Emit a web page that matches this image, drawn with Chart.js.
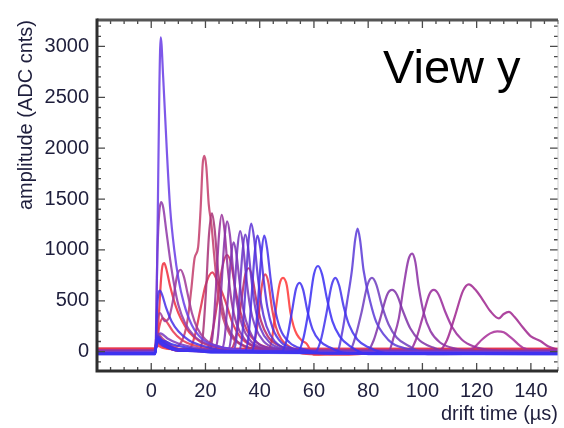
<!DOCTYPE html>
<html>
<head>
<meta charset="utf-8">
<script src="https://cdn.jsdelivr.net/npm/chart.js@4.4.1/dist/chart.umd.min.js"></script>
<style>
  body { margin: 0; background: #fff; }
</style>
</head>
<body>
<canvas id="pulses" width="564" height="428"></canvas>
<script>
// axis ticks
const xTicks = [0, 20, 40, 60, 80, 100, 120, 140];
const yTicks = [0, 500, 1000, 1500, 2000, 2500, 3000];

// pulse traces, [drift time (us), amplitude (ADC cnts)]
const red48 = [[-20,25],[0,20],[1.4,22],[2.2,60],[4,40],[8,25],[43,20],[44.5,120],[45.8,390],[47.3,660],[48.6,725],[50,650],[51.3,390],[52.5,250],[53.7,170],[55.5,110],[57.4,76],[60,-30],[64,-25],[80,20],[110,25],[150,20]];
const red42 = [[-20,30],[1.4,30],[2.2,120],[4,80],[8,30],[36,25],[38,90],[39.5,330],[40.8,650],[42,760],[43.2,680],[44.5,430],[46,240],[48,120],[51,50],[56,-20],[70,-30],[100,20],[150,25]];
const red22 = [[-20,20],[1.4,20],[2.2,90],[4.5,60],[9,25],[14,25],[16,150],[18,400],[20,650],[22.5,780],[25,650],[27.3,500],[30,280],[33,140],[38,50],[45,20],[60,-15],[150,25]];
const redPurple28 = [[-20,15],[1.4,15],[2.1,150],[4,100],[9,30],[20,15],[22,120],[24,420],[26,800],[27.9,950],[29.5,860],[31,620],[33,380],[35.5,200],[39,90],[45,30],[55,15],[150,15]];
const redPurple36 = [[-20,25],[1.4,25],[2.2,130],[4.5,80],[10,25],[29,20],[31,120],[33,450],[34.7,760],[35.9,820],[37.2,740],[38.8,500],[40.5,300],[43,150],[47,60],[55,20],[150,20]];
const red4 = [[-20,20],[1.6,20],[2.4,200],[3.9,800],[4.8,870],[5.5,820],[7,640],[9,450],[11,320],[14,190],[18,100],[24,45],[32,20],[150,20]];
const red4s = [[-20,30],[1.6,30],[3,250],[4.2,330],[5.5,300],[8,200],[11,120],[16,60],[24,30],[150,30]];
const pink19 = [[-20,15],[1.4,15],[2.2,180],[4.5,120],[9,50],[12,150],[13.5,330],[14.8,620],[16,920],[17.3,1030],[18.2,1400],[19,1850],[19.6,1925],[20.3,1820],[21.2,1450],[22.2,1250],[23.2,950],[24.5,600],[26.5,330],[29,170],[33,70],[40,20],[150,15]];
const tall22 = [[-20,10],[1.4,10],[2.2,100],[4.5,60],[10,10],[17.5,10],[19,150],[20.2,600],[21.3,1150],[22.4,1360],[23.4,1200],[24.6,800],[26,480],[28,260],[31,120],[36,40],[45,10],[150,10]];
const purple11 = [[-20,5],[1.4,5],[2.2,300],[3.2,380],[5,300],[6.5,330],[8,500],[9.5,740],[10.8,805],[12,740],[13.5,560],[15,380],[17,230],[20,120],[25,50],[32,15],[50,5],[150,5]];
const purple4 = [[-20,5],[1.5,5],[2.3,1000],[3.6,1470],[4.4,1420],[5.5,1200],[7,900],[8.5,650],[10,460],[12.5,280],[16,150],[20,80],[28,30],[40,10],[150,5]];
const mag117 = [[-20,10],[1.4,10],[2.2,120],[4.5,70],[10,15],[106,10],[109,110],[112,350],[115,600],[117.1,661],[119.5,610],[122,520],[125,400],[128.2,327],[130,370],[131.9,391],[134,340],[137,240],[140,150],[143.5,105],[146.5,50],[150,20]];
const mag128 = [[-20,15],[1.4,15],[2.2,80],[4.5,50],[10,15],[116,15],[119,40],[122,120],[125,180],[127.6,200],[130,190],[133,130],[137,40],[141,15],[150,15]];
const purple104 = [[-20,0],[1.4,0],[2.2,90],[4.5,55],[10,10],[95,0],[97.5,110],[100,330],[102.5,560],[104.2,607],[106,560],[108.3,400],[111,240],[114.5,120],[119,50],[126,15],[150,0]];
const purple96 = [[-20,5],[1.4,5],[2.2,150],[4.5,90],[10,20],[87.5,5],[89.5,150],[91.3,327],[93.1,645],[94.8,900],[96.2,963],[97.4,880],[98.6,645],[100.5,380],[103,200],[106.5,90],[112,30],[120,5],[150,5]];
const purple89 = [[-20,0],[1.4,0],[2.2,100],[4.5,60],[10,10],[79.5,0],[82,110],[84.5,330],[87,560],[88.8,607],[90.6,560],[92.8,400],[95.5,230],[99,110],[104,40],[112,-20],[150,0]];
const tall26 = [[-20,5],[1.4,5],[2.2,150],[4.5,90],[10,20],[21,10],[22.6,150],[23.8,600],[25,1150],[26,1345],[27,1200],[28.2,820],[29.6,500],[31.5,270],[34.5,120],[39,40],[48,5],[150,5]];
const tall28 = [[-20,0],[1.4,0],[2.2,120],[4.5,70],[10,15],[23,5],[24.6,150],[25.8,600],[27,1100],[28,1280],[29,1150],[30.2,800],[31.6,480],[33.5,260],[36.5,110],[41,35],[50,0],[150,0]];
const tall30 = [[-20,-5],[1.4,-5],[2.2,140],[4.5,80],[10,20],[25.5,5],[27,120],[28.2,500],[29.4,920],[30.4,1075],[31.4,960],[32.6,680],[34,410],[36,220],[39,90],[44,30],[52,-5],[150,-5]];
const purpleBlue81 = [[-20,-5],[1.4,-5],[2.2,120],[4.5,70],[10,15],[73,0],[75,120],[77.5,380],[79.8,660],[81.4,725],[83,660],[85,460],[87.5,270],[90.5,140],[95,55],[102,-25],[150,-5]];
const tall33 = [[-20,-10],[1.4,-10],[2.2,110],[4.5,60],[10,15],[28,0],[29.4,130],[30.6,560],[31.8,1020],[32.8,1185],[33.8,1060],[35,740],[36.4,450],[38.4,240],[41.5,100],[46,30],[55,-10],[150,-10]];
const tall35 = [[-20,-10],[1.4,-10],[2.2,160],[4.5,100],[10,25],[30,0],[31.4,130],[32.5,540],[33.7,990],[34.7,1150],[35.7,1030],[36.9,720],[38.3,440],[40.3,230],[43.5,95],[48,30],[57,-10],[150,-10]];
const violet76 = [[-20,-10],[1.4,-10],[2.2,140],[4.5,90],[10,20],[68.5,0],[70.5,200],[72.2,486],[74,800],[75.2,1100],[76.1,1210],[77,1100],[78.3,800],[80.8,486],[83,290],[85.7,170],[89,80],[95,25],[105,-10],[150,-10]];
const purple3s = [[-20,0],[1.4,0],[2.2,160],[3.4,180],[6,130],[10,80],[16,40],[25,10],[150,0]];
const tall37 = [[-20,-15],[1.4,-15],[2.2,130],[4.5,80],[10,20],[32,0],[33.5,140],[34.7,600],[35.9,1090],[36.9,1260],[37.9,1120],[39.1,790],[40.5,480],[42.5,250],[45.6,100],[50,30],[60,-15],[150,-15]];
const violet3 = [[-20,-5],[-10,-10],[0,-5],[1.6,-5],[2.2,900],[3.0,2600],[3.5,3090],[4.4,2700],[5.8,1950],[7,1400],[8.5,1000],[10,720],[12,480],[15,260],[19,120],[25,50],[35,15],[60,-10],[100,-5],[150,-10]];
const tall39 = [[-20,-15],[1.4,-15],[2.2,150],[4.5,90],[10,20],[34.3,0],[35.8,130],[37,540],[38.2,980],[39.2,1140],[40.2,1020],[41.4,720],[42.8,440],[44.8,230],[48,90],[53,25],[62,-15],[150,-15]];
const tall42 = [[-20,-20],[1.4,-20],[2.2,120],[4.5,70],[10,15],[36.8,0],[38.3,130],[39.5,540],[40.7,980],[41.7,1140],[42.7,1020],[44,720],[45.5,440],[47.5,230],[51,90],[56,25],[65,-20],[150,-20]];
const blue3 = [[-20,-20],[1.5,-20],[2.2,450],[3.2,600],[4,560],[5.5,430],[7.5,300],[10,200],[14,110],[20,50],[30,0],[150,-20]];
const blue55 = [[-20,-15],[1.4,-15],[2.2,100],[4.5,60],[10,10],[48,0],[50,120],[51.8,380],[53.4,620],[54.7,677],[56,610],[57.6,400],[59.5,220],[62,110],[66,40],[72,-15],[150,-15]];
const blue62 = [[-20,-25],[1.4,-25],[2.2,130],[4.5,80],[10,15],[54,0],[56,120],[58,400],[60,760],[61.5,842],[63,760],[64.8,520],[66.8,300],[69.5,150],[73,60],[80,-25],[150,-25]];
const blue68 = [[-20,-20],[1.4,-20],[2.2,110],[4.5,70],[10,15],[60.5,0],[62.5,110],[64.5,360],[66.5,650],[67.9,725],[69.3,650],[71,440],[73,260],[76,120],[80,45],[88,-20],[150,-20]];
const blue3s = [[-20,-25],[1.4,-25],[2.2,100],[4,110],[8,70],[14,35],[22,-10],[150,-25]];

// drawn from first (back) to last (front)
const traces = [red48, red42, red22, redPurple28, redPurple36, red4, red4s, pink19, tall22,
  purple11, purple4, mag117, mag128, purple104, purple96, purple89, tall26, tall28, tall30,
  purpleBlue81, tall33, tall35, violet76, purple3s, tall37, violet3, tall39, tall42, blue3,
  blue55, blue62, blue68, blue3s];

const traceColors = ['#ff3a3a', '#e8344a', '#e0304c', '#c82c60', '#b82868', '#f03040', '#e83a50',
  '#c4406e', '#a83478', '#a03c98', '#903aa8', '#a02890', '#a8309a', '#9a2c9c', '#8c30a4',
  '#8034a8', '#98309a', '#8a32a8', '#8034b4', '#7040c0', '#7636be', '#6a36c8', '#5c3cd8',
  '#7a3ac0', '#5c34d6', '#6a3ee6', '#5030e0', '#4630ea', '#4a32e6', '#4030f0', '#3c30f4',
  '#4434ee', '#3c34f0'];

// Chart.js paints dataset 0 on top, so hand them over reversed
const datasets = traces.map((pts, i) => ({
  data: pts,
  borderColor: traceColors[i] + 'dd',
  borderWidth: 2.2,
  pointRadius: 0,
  fill: false,
  cubicInterpolationMode: 'monotone'
})).reverse();

// IDL-style frame with inward ticks, plus the "View y" tag
const framePlugin = {
  id: 'frame',
  afterDraw(chart) {
    const {ctx, chartArea: a, scales: {x, y}} = chart;
    ctx.save();
    ctx.strokeStyle = '#4a4a4a';
    ctx.lineWidth = 1.3;
    ctx.beginPath();
    for (let v = -20; v <= 150; v += 5) {
      const px = x.getPixelForValue(v);
      const len = v % 20 === 0 ? 8 : 4;
      ctx.moveTo(px, a.bottom);
      ctx.lineTo(px, a.bottom - len);
      ctx.moveTo(px, a.top);
      ctx.lineTo(px, a.top + len);
    }
    for (let v = -100; v <= 3200; v += 100) {
      const py = y.getPixelForValue(v);
      const len = v % 500 === 0 ? 8 : 4;
      ctx.moveTo(a.left, py);
      ctx.lineTo(a.left + len, py);
      ctx.moveTo(a.right, py);
      ctx.lineTo(a.right - len, py);
    }
    ctx.stroke();

    ctx.lineWidth = 1;
    ctx.strokeStyle = '#cfcfcf';
    ctx.beginPath();
    ctx.moveTo(a.right, a.top);
    ctx.lineTo(a.right, a.bottom);
    ctx.stroke();

    ctx.lineWidth = 3;
    ctx.strokeStyle = '#555';
    ctx.beginPath();
    ctx.moveTo(a.left, a.top);
    ctx.lineTo(a.right, a.top);
    ctx.stroke();

    ctx.strokeStyle = '#2e2e2e';
    ctx.beginPath();
    ctx.moveTo(a.left, a.top - 1.5);
    ctx.lineTo(a.left, a.bottom);
    ctx.lineTo(a.right, a.bottom);
    ctx.stroke();

    ctx.fillStyle = '#000';
    ctx.font = '47px "Liberation Sans", Arial, sans-serif';
    ctx.textAlign = 'left';
    ctx.textBaseline = 'alphabetic';
    ctx.fillText('View y', 383, 83);
    ctx.restore();
  }
};

const labelFont = {family: '"Liberation Sans", Arial, sans-serif', size: 20};
const labelColor = '#1e1e3c';

new Chart(document.getElementById('pulses'), {
  type: 'line',
  data: {datasets},
  plugins: [framePlugin],
  options: {
    responsive: false,
    animation: false,
    devicePixelRatio: 1,
    layout: {padding: {top: 9, right: 6, left: 0, bottom: 0}},
    plugins: {legend: {display: false}, tooltip: {enabled: false}},
    scales: {
      x: {
        type: 'linear',
        min: -20,
        max: 150,
        grid: {display: false, drawTicks: false},
        border: {display: false},
        afterBuildTicks: s => { s.ticks = xTicks.map(v => ({value: v})); },
        afterFit: s => { s.height = 57; },
        ticks: {font: labelFont, color: labelColor, padding: 8, maxRotation: 0, callback: v => String(v)},
        title: {
          display: true,
          text: 'drift time (µs)',
          align: 'end',
          font: {...labelFont, lineHeight: 1.2},
          color: labelColor,
          padding: {top: 0, bottom: 2}
        }
      },
      y: {
        type: 'linear',
        min: -190,
        max: 3260,
        grid: {display: false, drawTicks: false},
        border: {display: false},
        afterBuildTicks: s => { s.ticks = yTicks.map(v => ({value: v})); },
        afterFit: s => { s.width = 97; },
        ticks: {font: labelFont, color: labelColor, padding: 8, callback: v => String(v)},
        title: {
          display: true,
          text: 'amplitude (ADC cnts)',
          align: 'end',
          font: {...labelFont, lineHeight: 1.2},
          color: labelColor,
          padding: {top: 14, bottom: 0}
        }
      }
    }
  }
});
</script>
</body>
</html>
